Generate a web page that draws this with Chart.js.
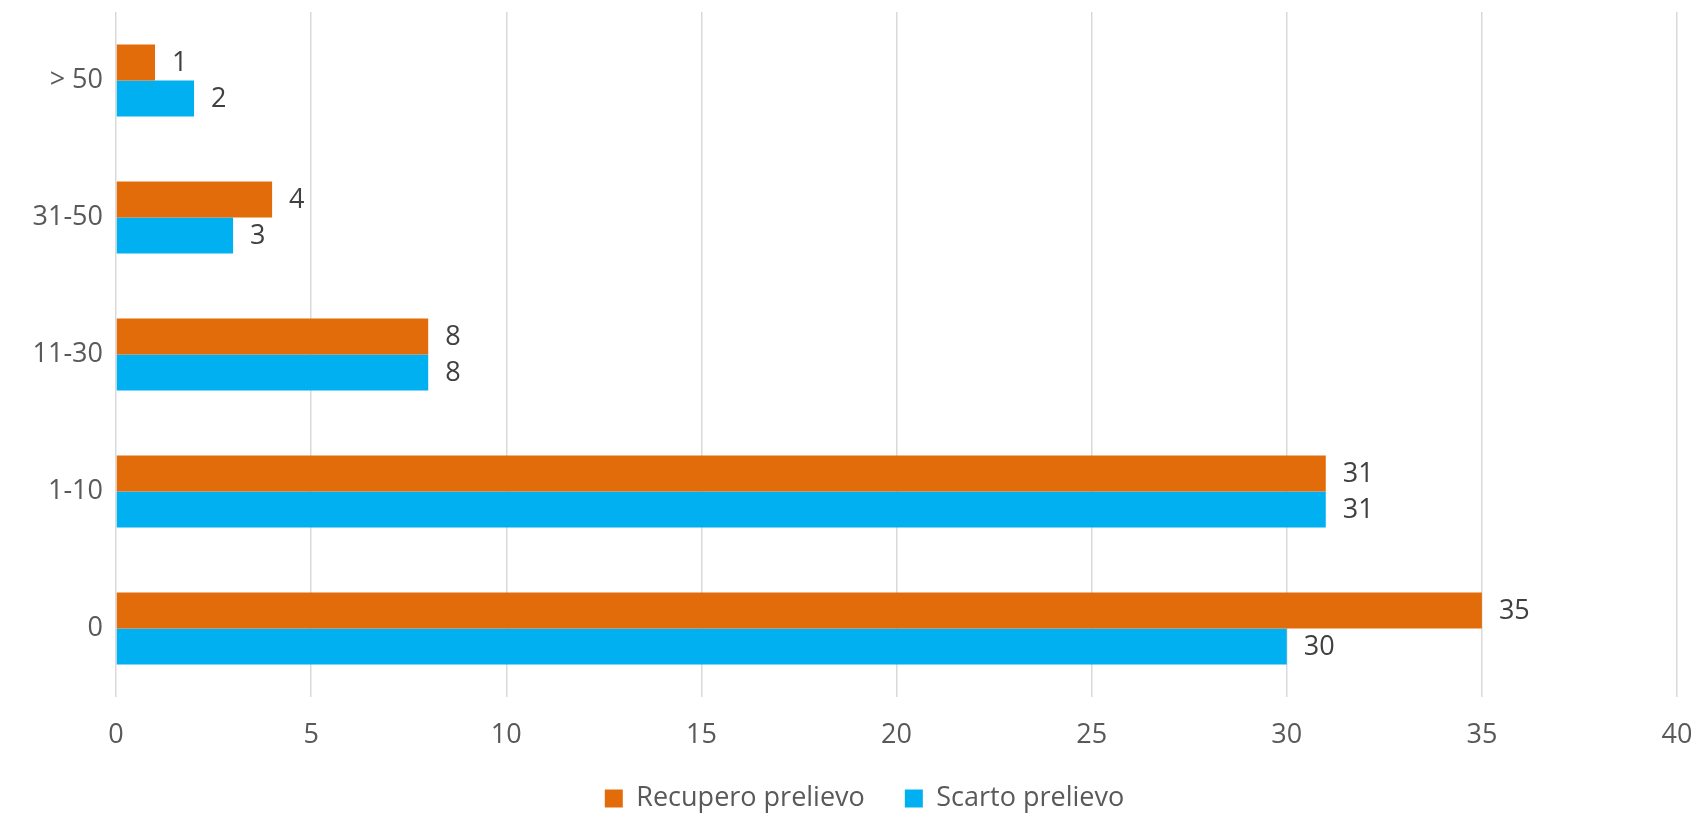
<!DOCTYPE html>
<html>
<head>
<meta charset="utf-8">
<script src="https://cdn.jsdelivr.net/npm/chart.js@4/dist/chart.umd.min.js"></script>
<style>
  html, body { margin: 0; padding: 0; background: #fff; }
  #wrap { width: 1698px; height: 818px; }
</style>
</head>
<body>
<div id="wrap"><canvas id="chart" width="1698" height="818"></canvas></div>
<script>
// categorie (dal basso verso l'alto nel grafico)
const categorie = ['0', '1-10', '11-30', '31-50', '> 50'];
const recuperoPrelievo = [35, 31, 8, 4, 1];
const scartoPrelievo = [30, 31, 8, 3, 2];
const tickX = [0, 5, 10, 15, 20, 25, 30, 35, 40];

const fontFam = "'Open Sans', 'Noto Sans', sans-serif";

// etichette dei valori accanto alle barre
const etichette = {
    id: 'etichette',
    afterLayout(chart) {
        // legenda un po' spostata a destra come nell'originale
        if (chart.legend) {
            chart.legend.left += 11;
            chart.legend.right += 11;
        }
    },
    afterDatasetsDraw(chart) {
        const ctx = chart.ctx;
        ctx.save();
        ctx.font = `27px ${fontFam}`;
        ctx.fillStyle = '#404040';
        ctx.textAlign = 'left';
        ctx.textBaseline = 'middle';
        chart.data.datasets.forEach((ds, i) => {
            chart.getDatasetMeta(i).data.forEach((bar, j) => {
                ctx.fillText(String(ds.data[j]), bar.x + 17, bar.y + 1);
            });
        });
        ctx.restore();
    }
};

const ctx = document.getElementById('chart').getContext('2d');
new Chart(ctx, {
    type: 'bar',
    data: {
        labels: categorie,
        datasets: [
            {
                label: 'Recupero prelievo',
                data: recuperoPrelievo,
                backgroundColor: '#E36C0A',
                categoryPercentage: 0.526,
                barPercentage: 1
            },
            {
                label: 'Scarto prelievo',
                data: scartoPrelievo,
                backgroundColor: '#00B0F0',
                categoryPercentage: 0.526,
                barPercentage: 1
            }
        ]
    },
    options: {
        indexAxis: 'y',
        responsive: false,
        animation: false,
        layout: {
            padding: { top: 12, right: 21, left: 30, bottom: -4 }
        },
        plugins: {
            tooltip: { enabled: false },
            legend: {
                position: 'bottom',
                labels: {
                    boxWidth: 18,
                    boxHeight: 18,
                    padding: 40,
                    color: '#595959',
                    font: { family: fontFam, size: 27 }
                }
            }
        },
        scales: {
            x: {
                min: 0,
                max: 40,
                afterBuildTicks: scale => { scale.ticks = tickX.map(v => ({ value: v })); },
                afterFit: scale => {
                    scale.height = 48;
                    scale.paddingLeft = 0;
                    scale.paddingRight = 0;
                },
                grid: { color: '#d9d9d9', lineWidth: 1.5, drawTicks: false },
                border: { display: false },
                ticks: {
                    padding: 22,
                    color: '#595959',
                    font: { family: fontFam, size: 27 }
                }
            },
            y: {
                reverse: true,
                afterFit: scale => {
                    scale.width = 86;
                    scale.paddingTop = 0;
                    scale.paddingBottom = 0;
                },
                grid: { display: false, drawTicks: false },
                border: { display: false },
                ticks: {
                    padding: 13,
                    color: '#595959',
                    font: { family: fontFam, size: 27 }
                }
            }
        }
    },
    plugins: [etichette]
});
</script>
</body>
</html>
